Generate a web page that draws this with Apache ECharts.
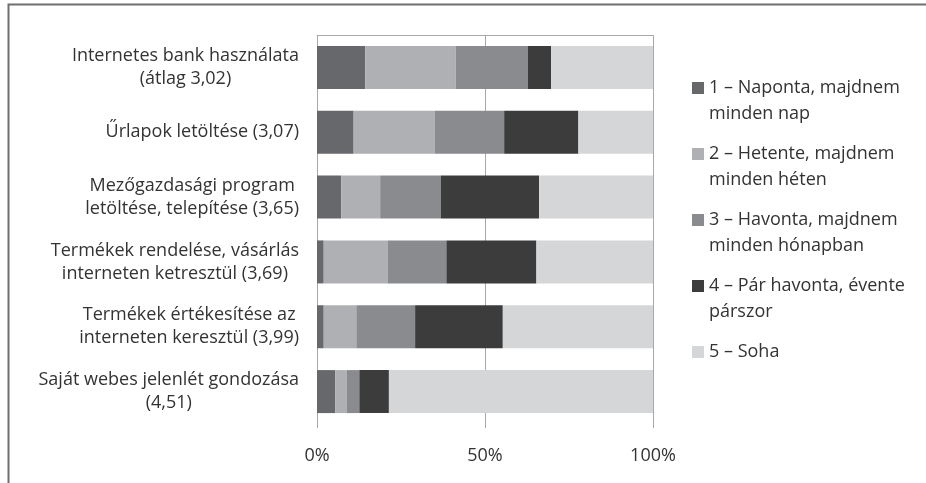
<!DOCTYPE html>
<html>
<head>
<meta charset="utf-8">
<script src="https://cdn.jsdelivr.net/npm/echarts@6/dist/echarts.min.js"></script>
<style>
  html, body { margin: 0; padding: 0; background: #ffffff; }
  #chart { width: 926px; height: 483px; }
</style>
</head>
<body>
<div id="chart"></div>
<script>
// Activities (top to bottom) and the share of respondents per frequency, in %
const categories = [
  'Internetes bank használata\n(átlag 3,02)',
  'Űrlapok letöltése (3,07)',
  'Mezőgazdasági program\nletöltése, telepítése (3,65)',
  'Termékek rendelése, vásárlás\ninterneten ketresztül (3,69)',
  'Termékek értékesítése az\ninterneten keresztül (3,99)',
  'Saját webes jelenlét gondozása\n(4,51)'
];
const seriesNames = [
  '1 – Naponta, majdnem\nminden nap',
  '2 – Hetente, majdnem\nminden héten',
  '3 – Havonta, majdnem\nminden hónapban',
  '4 – Pár havonta, évente\npárszor',
  '5 – Soha'
];
const daily   = [14.4, 10.9,  7.2,  2.0,  2.0,  5.4];
const weekly  = [26.9, 24.2, 11.6, 19.0,  9.7,  3.5];
const monthly = [21.5, 20.6, 18.1, 17.5, 17.5,  3.7];
const yearly  = [ 6.9, 22.1, 29.2, 26.8, 26.1,  8.8];
const never   = [30.3, 22.2, 33.9, 34.7, 44.7, 78.6];
const xTicks = [0, 50, 100];

const seriesValues = [daily, weekly, monthly, yearly, never];
const colors = ['#67686c', '#afb0b3', '#8a8b8f', '#3c3c3d', '#d5d6d8'];
const FONT = '"Open Sans"';
const SIZE = 18;
const TEXT = '#333333';

const chart = echarts.init(document.getElementById('chart'));

chart.setOption({
  animation: false,
  backgroundColor: '#ffffff',
  color: colors,
  graphic: [
    { type: 'polyline', shape: { points: [[8.5, 483], [8.5, 4.5], [926, 4.5]] },
      style: { stroke: '#6f6f6f', lineWidth: 2, fill: null } }
  ],
  grid: { left: 317, right: 273, top: 35, bottom: 59, containLabel: false },
  legend: {
    orient: 'vertical',
    left: 692,
    top: 49,
    padding: 0,
    itemGap: -12,
    itemWidth: 12,
    itemHeight: 12,
    icon: 'rect',
    selectedMode: false,
    data: seriesNames,
    // three text rows per entry so the first row sits beside the swatch
    formatter: function (name) {
      const rows = name.split('\n');
      return '\n' + rows.join('\n') + (rows.length === 1 ? '\n' : '');
    },
    textStyle: { fontFamily: FONT, fontSize: SIZE, lineHeight: 26, color: TEXT }
  },
  xAxis: [
    {
      type: 'value',
      min: 0, max: 100, interval: 50,
      axisLine: { show: false },
      axisTick: { show: true, length: 4, lineStyle: { color: '#a8a8a8' } },
      splitLine: { show: true, lineStyle: { color: '#a8a8a8', width: 1 } },
      axisLabel: {
        formatter: function (v) { return xTicks.indexOf(v) >= 0 ? v + '%' : ''; },
        fontFamily: FONT, fontSize: SIZE, color: TEXT, margin: 23
      }
    },
    {
      type: 'value', position: 'top',
      min: 0, max: 100,
      axisLine: { show: true, lineStyle: { color: '#a8a8a8', width: 1 } },
      axisTick: { show: false }, axisLabel: { show: false }, splitLine: { show: false }
    }
  ],
  yAxis: {
    type: 'category',
    inverse: true,
    data: categories,
    axisLine: { show: false },
    axisTick: { show: false },
    axisLabel: {
      margin: 18,
      formatter: function (v) {
        return v.split('\n').map(function (l) { return '{c|' + l + '}'; }).join('\n');
      },
      rich: {
        c: { align: 'center', fontFamily: FONT, fontSize: SIZE, lineHeight: 23, color: TEXT }
      }
    }
  },
  series: seriesNames.map(function (name, i) {
    return {
      name: name,
      type: 'bar',
      stack: 'total',
      barWidth: 43,
      xAxisIndex: 0,
      data: seriesValues[i],
      itemStyle: { color: colors[i] }
    };
  })
});
</script>
</body>
</html>
